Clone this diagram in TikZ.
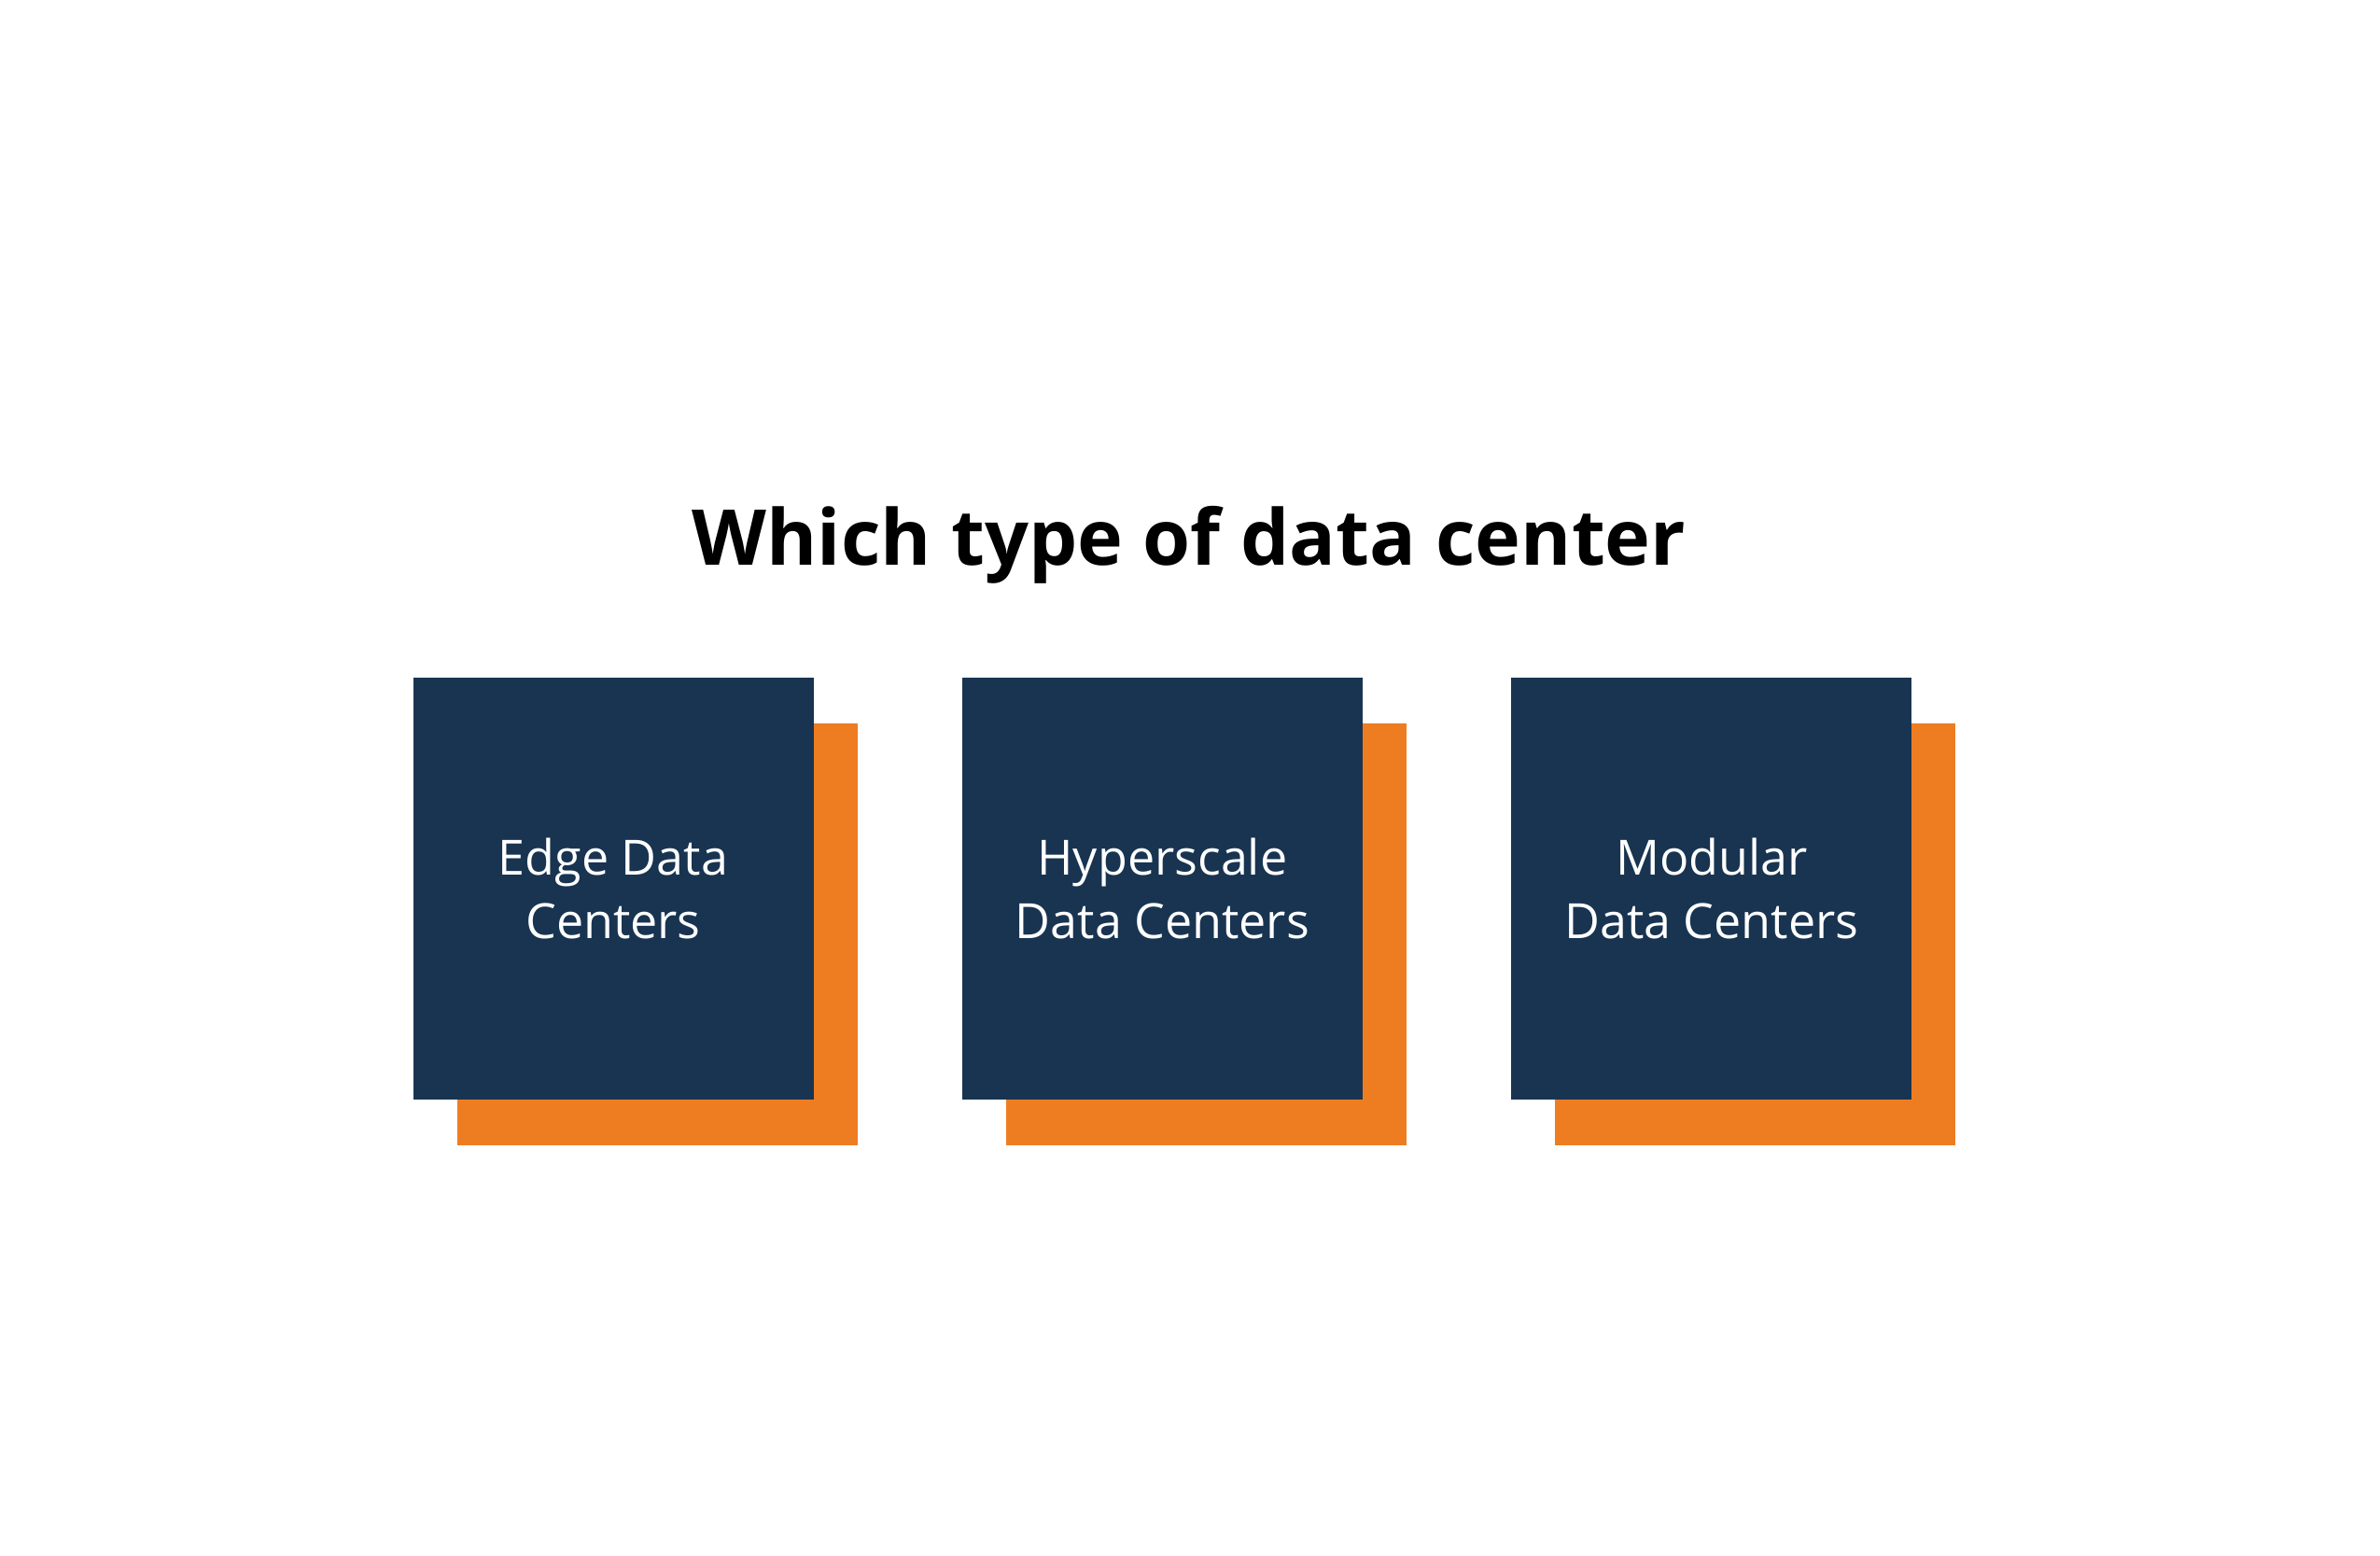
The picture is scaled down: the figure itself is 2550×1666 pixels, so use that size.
\documentclass[tikz,border=0pt]{standalone}
\usepackage{fontspec}
\setmainfont{Open Sans}
\usepackage{tikz}
\usetikzlibrary{positioning, shadows}
\usepackage{xcolor}
\definecolor{Navy}{RGB}{24, 52, 81}
\definecolor{Carrot}{RGB}{238, 125, 34}
\tikzset{%
  title_text/.style={%
    anchor=base,%
    inner sep=0pt,%
    font={\fontsize{23.5}{28}\selectfont\bfseries},%
  },
  type_block/.style={%
    rectangle,%
    fill=Navy,%
    inner sep=0pt,%
    minimum width=42.9mm,%
    minimum height=45.2mm,%
    text=white,%
    font={\fontsize{14.8}{19.2}\selectfont},%
    align=center,%
    general shadow={fill=Carrot, shadow xshift=4.7mm, shadow yshift=-4.9mm},%
  },
}
\begin{document}
\begin{tikzpicture}[x=0.1mm, y=-0.1mm]

    \useasboundingbox [fill=white] (0, 0) rectangle (2550, 1666);

    \node [title_text] (Title) at (1274, 605) {Which type of data center};

    \node [type_block] (Edge) at (657, 952) {Edge Data\\Centers};
    \node [type_block, right = 15.8mm of Edge] (Hyper) {Hyperscale\\Data Centers};
    \node [type_block, right = 15.8mm of Hyper] (Modular) {Modular\\Data Centers};

  \end{tikzpicture}
\end{document}
